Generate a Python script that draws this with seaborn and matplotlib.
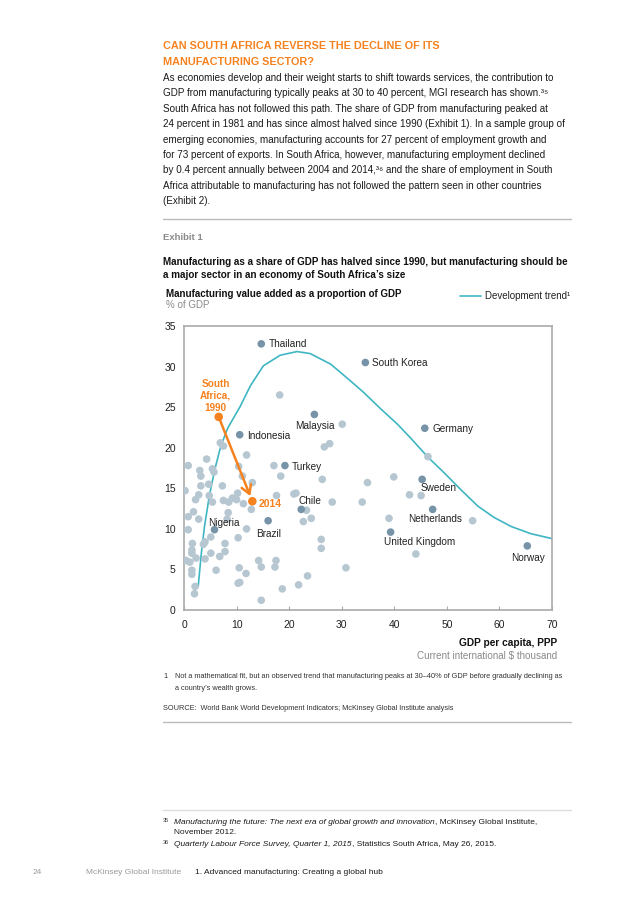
import numpy as np
import pandas as pd
import matplotlib
matplotlib.use("Agg")
import matplotlib.pyplot as plt
import seaborn as sns

# ---------------- data ----------------
light_x = [0.2, 0.8, 3.0, 3.2, 4.3, 5.4, 5.7, 6.9, 7.5, 11.9, 10.4, 11.1, 13.0, 17.1, 18.4,
           3.2, 4.7, 2.2, 2.8, 4.8, 5.4, 7.3, 7.5, 8.5, 9.2, 10.2, 10.0, 11.3, 12.8,
           17.6, 20.9, 21.3, 26.3, 26.7, 27.7, 23.3, 24.2, 22.7, 28.2, 33.9, 34.9,
           0.8, 1.8, 2.8, 0.8, 8.4, 8.2, 11.9, 5.1, 4.0, 1.6, 3.7, 1.5, 1.5, 7.8, 7.8,
           10.3, 5.1, 6.8, 2.3, 4.0, 0.4, 1.1, 1.5, 1.5, 6.1, 10.5, 11.8, 10.3, 10.6,
           2.1, 2.0, 14.2, 14.7, 17.5, 17.3, 14.7, 18.7, 21.8, 23.5, 26.1, 26.1, 30.8,
           18.2, 30.1, 46.4, 39.9, 42.9, 45.1, 39.0, 54.9, 44.1]
light_y = [14.7, 17.8, 17.2, 16.5, 18.6, 17.4, 17.0, 20.6, 20.2, 19.1, 17.7, 16.5, 15.7, 17.8, 16.5,
           15.3, 15.5, 13.6, 14.2, 14.1, 13.3, 15.3, 13.5, 13.3, 13.8, 14.4, 13.6, 13.1, 12.4,
           14.1, 14.3, 14.4, 16.1, 20.1, 20.5, 12.3, 11.3, 10.9, 13.3, 13.3, 15.7,
           11.5, 12.1, 11.2, 9.9, 12.0, 11.2, 10.0, 9.0, 8.4, 8.2, 8.1, 7.4, 7.0, 8.2, 7.2,
           8.9, 7.0, 6.6, 6.4, 6.3, 6.1, 5.9, 4.9, 4.4, 4.9, 5.2, 4.5, 3.3, 3.4,
           2.9, 2.0, 6.1, 5.3, 6.1, 5.3, 1.2, 2.6, 3.1, 4.2, 8.7, 7.6, 5.2,
           26.5, 22.9, 18.9, 16.4, 14.2, 14.1, 11.3, 11.0, 6.9]

countries = ["Thailand", "South Korea", "Malaysia", "Indonesia", "Germany", "Turkey",
             "Sweden", "Chile", "Netherlands", "Nigeria", "Brazil", "United Kingdom", "Norway"]
country_x = [14.7, 34.5, 24.8, 10.6, 45.8, 19.2, 45.3, 22.3, 47.3, 5.8, 16.0, 39.3, 65.3]
country_y = [32.8, 30.5, 24.1, 21.6, 22.4, 17.8, 16.1, 12.4, 12.4, 9.9, 11.0, 9.6, 7.9]

sa_years = ["South\nAfrica,\n1990", "2014"]
sa_x = [6.6, 13.0]
sa_y = [23.8, 13.4]

trend_x = [2.7, 3.3, 3.9, 4.8, 5.85, 7.0, 8.3, 10.7, 12.6, 15.1, 18.3, 21.5, 24.0, 27.9,
           31.0, 34.2, 37.4, 40.6, 43.1, 46.3, 49.5, 52.7, 55.9, 59.0, 62.2, 66.0, 70.0]
trend_y = [2.9, 7.0, 10.3, 14.0, 17.3, 20.2, 22.4, 25.1, 27.6, 30.1, 31.4, 31.85, 31.6, 30.3,
           28.6, 26.8, 24.8, 22.9, 21.2, 18.9, 16.9, 14.8, 12.8, 11.4, 10.3, 9.4, 8.8]

x_ticks = [0, 10, 20, 30, 40, 50, 60, 70]
y_ticks = [0, 5, 10, 15, 20, 25, 30, 35]

# ---------------- style ----------------
sns.set_theme(style="white")
plt.rcParams["font.family"] = ["Liberation Sans", "DejaVu Sans"]

ORANGE = "#f5821f"
CYAN = "#3fb6c3"
LIGHT = "#b6c7d2"
DARK = "#7693a7"

W, H = 636, 900
fig = plt.figure(figsize=(W / 100, H / 100), dpi=100)
renderer = fig.canvas.get_renderer()

def fx(px):
    return px / W

def fy(py):
    return 1 - py / H

ax = fig.add_axes([fx(184), fy(610), fx(552) - fx(184), fy(326) - fy(610)])

sns.lineplot(x=trend_x, y=trend_y, sort=False, estimator=None, color=CYAN, lw=1.2, ax=ax)
sns.scatterplot(x=light_x, y=light_y, color=LIGHT, s=30, edgecolor="none", ax=ax, zorder=3)
sns.scatterplot(x=country_x, y=country_y, color=DARK, s=30, edgecolor="none", ax=ax, zorder=4)

ax.annotate("", xy=(sa_x[1], sa_y[1]), xytext=(sa_x[0], sa_y[0]),
            arrowprops=dict(arrowstyle="->,head_length=0.5,head_width=0.3", color=ORANGE,
                            lw=1.8, shrinkA=0, shrinkB=4), zorder=5)
sns.scatterplot(x=sa_x, y=sa_y, color=ORANGE, s=38, edgecolor="none", ax=ax, zorder=6)

# label offsets in pixels (dx, dy, ha)
offsets = {
    "Thailand": (7, 0, "left"),
    "South Korea": (7, 0, "left"),
    "Malaysia": (0, -12, "center"),
    "Indonesia": (7, -1, "left"),
    "Germany": (8, -1, "left"),
    "Turkey": (7, -1, "left"),
    "Sweden": (16, -9, "center"),
    "Chile": (9, 8, "center"),
    "Netherlands": (2, -10, "center"),
    "Nigeria": (9, 7, "center"),
    "Brazil": (1, -13, "center"),
    "United Kingdom": (29, -10, "center"),
    "Norway": (1, -12, "center"),
}
for name, x, y in zip(countries, country_x, country_y):
    dx, dy, ha = offsets[name]
    ax.annotate(name, (x, y), xytext=(dx * 0.72, dy * 0.72), textcoords="offset points",
                ha=ha, va="center", fontsize=7.2, color="#222222", zorder=7)

ax.annotate(sa_years[0], (sa_x[0], sa_y[0]), xytext=(-3 * 0.72, 21 * 0.72),
            textcoords="offset points", ha="center", va="center", fontsize=7.2,
            fontweight="bold", color=ORANGE, linespacing=1.25, zorder=7)
ax.annotate(sa_years[1], (sa_x[1], sa_y[1]), xytext=(6 * 0.72, -3 * 0.72),
            textcoords="offset points", ha="left", va="center", fontsize=7.5,
            fontweight="bold", color=ORANGE, zorder=7)

ax.set_xlim(0, 70)
ax.set_ylim(0, 35)
ax.set_xticks(x_ticks)
ax.set_yticks(y_ticks)
ax.set_xticklabels([str(t) for t in x_ticks], fontsize=7.5, color="#222222")
ax.set_yticklabels([str(t) for t in y_ticks], fontsize=7.5, color="#222222")
ax.tick_params(axis="x", direction="in", length=3, width=0.8, color="#aaaaaa", pad=7, bottom=True)
ax.tick_params(axis="y", length=0, pad=6)
for sp in ax.spines.values():
    sp.set_visible(True)
    sp.set_color("#aaaaaa")
    sp.set_linewidth(1.2)
ax.set_xlabel("")
ax.set_ylabel("")
ax.grid(False)

# ---------------- page text ----------------
def T(px, py, s, **kw):
    kw.setdefault("va", "center")
    kw.setdefault("ha", "left")
    return fig.text(fx(px), fy(py), s, **kw)

def chain(px, py, pieces, **kw):
    """Place text pieces one after another on the same line."""
    x = px
    for s, extra in pieces:
        k = dict(kw)
        k.update(extra)
        t = T(x, py, s, **k)
        bb = t.get_window_extent(renderer)
        x = bb.x1
    return x

T(163, 46, "CAN SOUTH AFRICA REVERSE THE DECLINE OF ITS", fontsize=7.8, fontweight="bold", color=ORANGE)
T(163, 62, "MANUFACTURING SECTOR?", fontsize=7.8, fontweight="bold", color=ORANGE)

body = [
    "As economies develop and their weight starts to shift towards services, the contribution to",
    "GDP from manufacturing typically peaks at 30 to 40 percent, MGI research has shown.\u00b3\u2075",
    "South Africa has not followed this path. The share of GDP from manufacturing peaked at",
    "24 percent in 1981 and has since almost halved since 1990 (Exhibit 1). In a sample group of",
    "emerging economies, manufacturing accounts for 27 percent of employment growth and",
    "for 73 percent of exports. In South Africa, however, manufacturing employment declined",
    "by 0.4 percent annually between 2004 and 2014,\u00b3\u2076 and the share of employment in South",
    "Africa attributable to manufacturing has not followed the pattern seen in other countries",
    "(Exhibit 2).",
]
for i, line in enumerate(body):
    T(163, 78 + 15.4 * i, line, fontsize=7.15, color="#1a1a1a")

fig.add_artist(plt.Line2D([fx(163), fx(571)], [fy(219), fy(219)], color="#bbbbbb", lw=1))
T(163, 238, "Exhibit 1", fontsize=6.8, fontweight="bold", color="#8a8a8a")
T(163, 262, "Manufacturing as a share of GDP has halved since 1990, but manufacturing should be",
  fontsize=7.1, fontweight="bold", color="#111111")
T(163, 275, "a major sector in an economy of South Africa\u2019s size",
  fontsize=7.1, fontweight="bold", color="#111111")
T(166, 294, "Manufacturing value added as a proportion of GDP", fontsize=7, fontweight="bold", color="#111111")
T(166, 305, "% of GDP", fontsize=7, color="#8a8a8a")
fig.add_artist(plt.Line2D([fx(460), fx(481)], [fy(296), fy(296)], color=CYAN, lw=1.2))
T(485, 296, "Development trend\u00b9", fontsize=7, color="#222222")

T(557, 643, "GDP per capita, PPP", fontsize=7.3, fontweight="bold", color="#111111", ha="right")
T(557, 656, "Current international $ thousand", fontsize=7.1, color="#8a8a8a", ha="right")

T(163, 677, "1", fontsize=5.3, color="#333333")
T(175, 677, "Not a mathematical fit, but an observed trend that manufacturing peaks at 30\u201340% of GDP before gradually declining as",
  fontsize=5.3, color="#333333")
T(175, 688, "a country\u2019s wealth grows.", fontsize=5.3, color="#333333")
T(163, 708, "SOURCE:  World Bank World Development Indicators; McKinsey Global Institute analysis",
  fontsize=5.3, color="#333333")
fig.add_artist(plt.Line2D([fx(163), fx(571)], [fy(722), fy(722)], color="#bbbbbb", lw=1))

fig.add_artist(plt.Line2D([fx(163), fx(571)], [fy(810), fy(810)], color="#dddddd", lw=1))
T(163, 820, "35", fontsize=4, color="#333333")
chain(174, 822, [("Manufacturing the future: The next era of global growth and innovation", {"style": "italic"}),
                 (", McKinsey Global Institute,", {})], fontsize=6, color="#1a1a1a")
T(174, 832, "November 2012.", fontsize=6, color="#1a1a1a")
T(163, 843, "36", fontsize=4, color="#333333")
chain(174, 845, [("Quarterly Labour Force Survey, Quarter 1, 2015", {"style": "italic"}),
                 (", Statistics South Africa, May 26, 2015.", {})], fontsize=6, color="#1a1a1a")

T(33, 873, "24", fontsize=6, color="#9a9a9a")
T(86, 873, "McKinsey Global Institute", fontsize=6, color="#9a9a9a")
T(195, 873, "1. Advanced manufacturing: Creating a global hub", fontsize=6, color="#1a1a1a")

fig.savefig("out.png", dpi=100, facecolor="white")
